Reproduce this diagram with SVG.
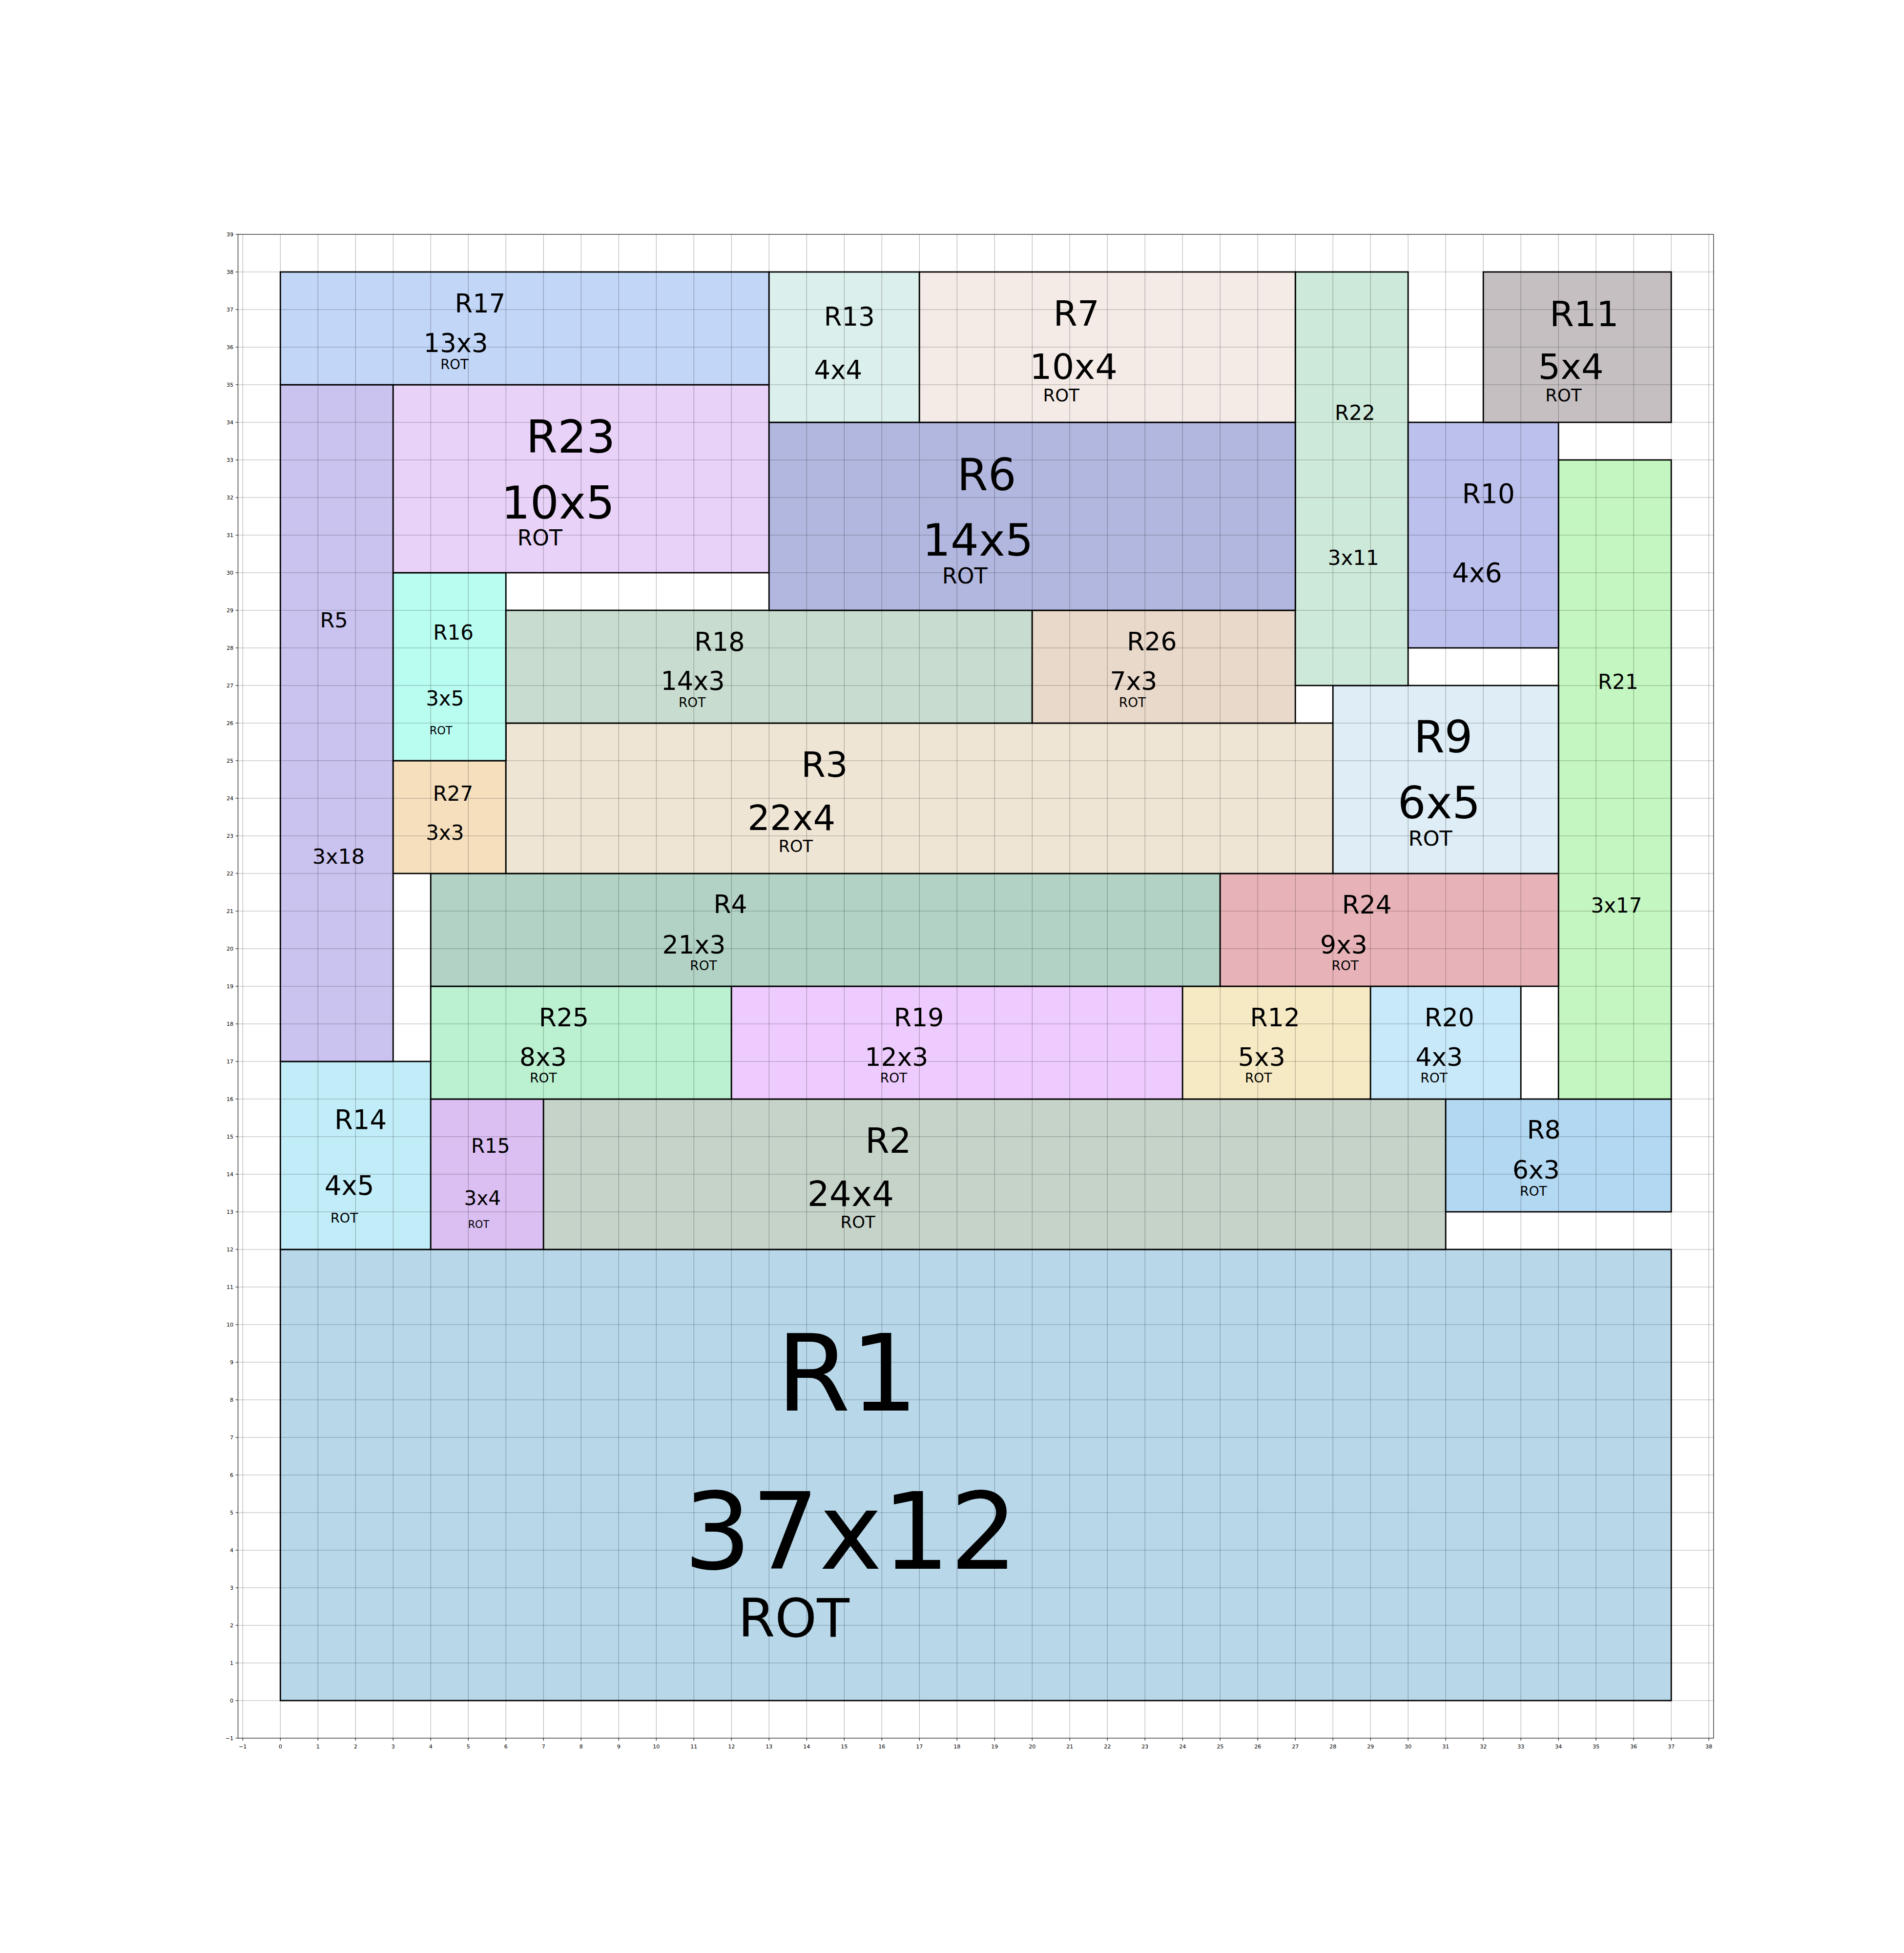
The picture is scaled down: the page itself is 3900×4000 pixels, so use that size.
<svg xmlns="http://www.w3.org/2000/svg" width="3900" height="4000" viewBox="0 0 3900 4000">
<style>
.r{stroke:#000;stroke-width:2.8}
.t{font-family:'DejaVu Sans','Liberation Sans',sans-serif;text-anchor:middle;fill:#000}
.xl{font-family:'DejaVu Sans','Liberation Sans',sans-serif;font-size:11.1px;text-anchor:middle;fill:#000}
.yl{font-family:'DejaVu Sans','Liberation Sans',sans-serif;font-size:11.1px;text-anchor:end;fill:#000}
</style>
<rect x="0" y="0" width="3900" height="4000" fill="#fff"/>
<g id="nodes">
<g id="R1"><rect class="r" x="574.25" y="2559" width="2849" height="924" fill="#b8d8ea"/>
<text class="t" x="1735.7" y="2889.2" font-size="218">R1</text><text class="t" x="1742.5" y="3213" font-size="218">37x12</text><text class="t" x="1625.7" y="3351.7" font-size="109">ROT</text></g>
<g id="R14"><rect class="r" x="574.25" y="2174" width="308" height="385" fill="#c1edf9"/>
<text class="t" x="738.5" y="2311.8" font-size="54.5">R14</text><text class="t" x="715.6" y="2446.9" font-size="54.5">4x5</text><text class="t" x="705.2" y="2503.7" font-size="27">ROT</text></g>
<g id="R15"><rect class="r" x="882.25" y="2251" width="231" height="308" fill="#dbbff3"/>
<text class="t" x="1004.8" y="2360.8" font-size="40.5">R15</text><text class="t" x="988.2" y="2467.8" font-size="40.5">3x4</text><text class="t" x="980.4" y="2514.7" font-size="20.7">ROT</text></g>
<g id="R2"><rect class="r" x="1113.25" y="2251" width="1848" height="308" fill="#c6d3c9"/>
<text class="t" x="1819.4" y="2360.8" font-size="71">R2</text><text class="t" x="1742.4" y="2469.8" font-size="71">24x4</text><text class="t" x="1757.2" y="2514.7" font-size="34">ROT</text></g>
<g id="R8"><rect class="r" x="2961.25" y="2251" width="462" height="231" fill="#b3d8f2"/>
<text class="t" x="3162.3" y="2331.8" font-size="52">R8</text><text class="t" x="3146.5" y="2413.9" font-size="52">6x3</text><text class="t" x="3141" y="2448.6" font-size="26.5">ROT</text></g>
<g id="R25"><rect class="r" x="882.25" y="2020" width="616" height="231" fill="#bbf1d1"/>
<text class="t" x="1155" y="2101.6" font-size="52">R25</text><text class="t" x="1112.5" y="2182.9" font-size="52">8x3</text><text class="t" x="1112.9" y="2217.1" font-size="26.5">ROT</text></g>
<g id="R19"><rect class="r" x="1498.25" y="2020" width="924" height="231" fill="#eecbfe"/>
<text class="t" x="1882.2" y="2101.6" font-size="52">R19</text><text class="t" x="1836.4" y="2182.9" font-size="52">12x3</text><text class="t" x="1830.5" y="2217.1" font-size="26.5">ROT</text></g>
<g id="R12"><rect class="r" x="2422.25" y="2020" width="385" height="231" fill="#f6eac4"/>
<text class="t" x="2611.7" y="2101.6" font-size="52">R12</text><text class="t" x="2584.3" y="2182.9" font-size="52">5x3</text><text class="t" x="2577.7" y="2217.1" font-size="26.5">ROT</text></g>
<g id="R20"><rect class="r" x="2807.25" y="2020" width="308" height="231" fill="#c8e9f9"/>
<text class="t" x="2968.8" y="2101.6" font-size="52">R20</text><text class="t" x="2947.9" y="2182.9" font-size="52">4x3</text><text class="t" x="2937.3" y="2217.1" font-size="26.5">ROT</text></g>
<g id="R21"><rect class="r" x="3192.25" y="942" width="231" height="1309" fill="#c3f6c0"/>
<text class="t" x="3314.4" y="1410.7" font-size="42">R21</text><text class="t" x="3311" y="1868.9" font-size="42">3x17</text></g>
<g id="R5"><rect class="r" x="574.25" y="788" width="231" height="1386" fill="#cac3f0"/>
<text class="t" x="684.1" y="1284.7" font-size="43">R5</text><text class="t" x="693.4" y="1768.9" font-size="43">3x18</text></g>
<g id="R4"><rect class="r" x="882.25" y="1789" width="1617" height="231" fill="#b2d2c5"/>
<text class="t" x="1496.1" y="1870.4" font-size="52">R4</text><text class="t" x="1421.4" y="1952.6" font-size="52">21x3</text><text class="t" x="1441" y="1987.2" font-size="26.5">ROT</text></g>
<g id="R24"><rect class="r" x="2499.25" y="1789" width="693" height="231" fill="#e8b3b8"/>
<text class="t" x="2799.8" y="1870.9" font-size="52">R24</text><text class="t" x="2752.5" y="1952.6" font-size="52">9x3</text><text class="t" x="2755.3" y="1987.2" font-size="26.5">ROT</text></g>
<g id="R27"><rect class="r" x="805.25" y="1558" width="231" height="231" fill="#f5dfbd"/>
<text class="t" x="928" y="1640.3" font-size="42">R27</text><text class="t" x="911.3" y="1719.9" font-size="42">3x3</text></g>
<g id="R3"><rect class="r" x="1036.25" y="1481" width="1694" height="308" fill="#efe5d5"/>
<text class="t" x="1688.8" y="1591.4" font-size="72">R3</text><text class="t" x="1621.2" y="1700.4" font-size="72">22x4</text><text class="t" x="1629.8" y="1745.4" font-size="33.5">ROT</text></g>
<g id="R9"><rect class="r" x="2730.25" y="1404" width="462" height="385" fill="#deedf6"/>
<text class="t" x="2956.2" y="1541.3" font-size="91">R9</text><text class="t" x="2947.6" y="1676" font-size="91">6x5</text><text class="t" x="2929.8" y="1732.1" font-size="43">ROT</text></g>
<g id="R16"><rect class="r" x="805.25" y="1173" width="231" height="385" fill="#b9fcf0"/>
<text class="t" x="928.6" y="1310.2" font-size="42">R16</text><text class="t" x="911.3" y="1444.9" font-size="42">3x5</text><text class="t" x="903.1" y="1503.6" font-size="22.4">ROT</text></g>
<g id="R18"><rect class="r" x="1036.25" y="1250" width="1078" height="231" fill="#c8ddd0"/>
<text class="t" x="1473.9" y="1333.2" font-size="52.5">R18</text><text class="t" x="1419.1" y="1413.3" font-size="52.5">14x3</text><text class="t" x="1417.7" y="1448" font-size="26.5">ROT</text></g>
<g id="R26"><rect class="r" x="2114.25" y="1250" width="539" height="231" fill="#e9d9ca"/>
<text class="t" x="2359.4" y="1332.1" font-size="52">R26</text><text class="t" x="2322" y="1413.3" font-size="52">7x3</text><text class="t" x="2319.5" y="1448" font-size="26.5">ROT</text></g>
<g id="R22"><rect class="r" x="2653.25" y="557" width="231" height="847" fill="#cde9d9"/>
<text class="t" x="2775.4" y="860.1" font-size="42">R22</text><text class="t" x="2772.3" y="1156.6" font-size="42">3x11</text></g>
<g id="R10"><rect class="r" x="2884.25" y="865" width="308" height="462" fill="#bcc0ec"/>
<text class="t" x="3048.9" y="1029.8" font-size="55">R10</text><text class="t" x="3025.4" y="1192.4" font-size="55">4x6</text></g>
<g id="R23"><rect class="r" x="805.25" y="788" width="770" height="385" fill="#e9d2f8"/>
<text class="t" x="1169" y="926.7" font-size="93">R23</text><text class="t" x="1142.9" y="1061.7" font-size="93">10x5</text><text class="t" x="1105.8" y="1117" font-size="44">ROT</text></g>
<g id="R6"><rect class="r" x="1575.25" y="865" width="1078" height="385" fill="#b2b7df"/>
<text class="t" x="2021" y="1003.7" font-size="91">R6</text><text class="t" x="2003" y="1138.2" font-size="91">14x5</text><text class="t" x="1976.2" y="1195.2" font-size="44.5">ROT</text></g>
<g id="R17"><rect class="r" x="574.25" y="557" width="1001" height="231" fill="#c2d6f8"/>
<text class="t" x="983.4" y="639.5" font-size="52.8">R17</text><text class="t" x="933.6" y="720.8" font-size="52.8">13x3</text><text class="t" x="931" y="755.5" font-size="27.5">ROT</text></g>
<g id="R13"><rect class="r" x="1575.25" y="557" width="308" height="308" fill="#dbefec"/>
<text class="t" x="1739.8" y="666.6" font-size="52.8">R13</text><text class="t" x="1716.8" y="776.1" font-size="52.8">4x4</text></g>
<g id="R7"><rect class="r" x="1883.25" y="557" width="770" height="308" fill="#f4ebe6"/>
<text class="t" x="2204.7" y="666.6" font-size="71">R7</text><text class="t" x="2199" y="776.1" font-size="72">10x4</text><text class="t" x="2173.7" y="822.2" font-size="35.5">ROT</text></g>
<g id="R11"><rect class="r" x="3038.25" y="557" width="385" height="308" fill="#c5bfc1"/>
<text class="t" x="3244.9" y="667.7" font-size="72">R11</text><text class="t" x="3217.7" y="776.1" font-size="72">5x4</text><text class="t" x="3202.5" y="822.2" font-size="35.5">ROT</text></g>
</g>
<g id="grid" fill="none" stroke="#000" stroke-opacity="0.31" stroke-width="1.1">
<path d="M497.25 480V3560M574.25 480V3560M651.25 480V3560M728.25 480V3560M805.25 480V3560M882.25 480V3560M959.25 480V3560M1036.25 480V3560M1113.25 480V3560M1190.25 480V3560M1267.25 480V3560M1344.25 480V3560M1421.25 480V3560M1498.25 480V3560M1575.25 480V3560M1652.25 480V3560M1729.25 480V3560M1806.25 480V3560M1883.25 480V3560M1960.25 480V3560M2037.25 480V3560M2114.25 480V3560M2191.25 480V3560M2268.25 480V3560M2345.25 480V3560M2422.25 480V3560M2499.25 480V3560M2576.25 480V3560M2653.25 480V3560M2730.25 480V3560M2807.25 480V3560M2884.25 480V3560M2961.25 480V3560M3038.25 480V3560M3115.25 480V3560M3192.25 480V3560M3269.25 480V3560M3346.25 480V3560M3423.25 480V3560M3500.25 480V3560"/>
<path d="M487.5 3483H3510M487.5 3406H3510M487.5 3329H3510M487.5 3252H3510M487.5 3175H3510M487.5 3098H3510M487.5 3021H3510M487.5 2944H3510M487.5 2867H3510M487.5 2790H3510M487.5 2713H3510M487.5 2636H3510M487.5 2559H3510M487.5 2482H3510M487.5 2405H3510M487.5 2328H3510M487.5 2251H3510M487.5 2174H3510M487.5 2097H3510M487.5 2020H3510M487.5 1943H3510M487.5 1866H3510M487.5 1789H3510M487.5 1712H3510M487.5 1635H3510M487.5 1558H3510M487.5 1481H3510M487.5 1404H3510M487.5 1327H3510M487.5 1250H3510M487.5 1173H3510M487.5 1096H3510M487.5 1019H3510M487.5 942H3510M487.5 865H3510M487.5 788H3510M487.5 711H3510M487.5 634H3510M487.5 557H3510"/>
</g>
<g id="axes" fill="none" stroke="#000" stroke-width="1.11">
<rect x="487.5" y="480" width="3022.5" height="3080"/>
<path d="M497.25 3560v4.9M574.25 3560v4.9M651.25 3560v4.9M728.25 3560v4.9M805.25 3560v4.9M882.25 3560v4.9M959.25 3560v4.9M1036.25 3560v4.9M1113.25 3560v4.9M1190.25 3560v4.9M1267.25 3560v4.9M1344.25 3560v4.9M1421.25 3560v4.9M1498.25 3560v4.9M1575.25 3560v4.9M1652.25 3560v4.9M1729.25 3560v4.9M1806.25 3560v4.9M1883.25 3560v4.9M1960.25 3560v4.9M2037.25 3560v4.9M2114.25 3560v4.9M2191.25 3560v4.9M2268.25 3560v4.9M2345.25 3560v4.9M2422.25 3560v4.9M2499.25 3560v4.9M2576.25 3560v4.9M2653.25 3560v4.9M2730.25 3560v4.9M2807.25 3560v4.9M2884.25 3560v4.9M2961.25 3560v4.9M3038.25 3560v4.9M3115.25 3560v4.9M3192.25 3560v4.9M3269.25 3560v4.9M3346.25 3560v4.9M3423.25 3560v4.9M3500.25 3560v4.9"/>
<path d="M487.5 3560h-4.9M487.5 3483h-4.9M487.5 3406h-4.9M487.5 3329h-4.9M487.5 3252h-4.9M487.5 3175h-4.9M487.5 3098h-4.9M487.5 3021h-4.9M487.5 2944h-4.9M487.5 2867h-4.9M487.5 2790h-4.9M487.5 2713h-4.9M487.5 2636h-4.9M487.5 2559h-4.9M487.5 2482h-4.9M487.5 2405h-4.9M487.5 2328h-4.9M487.5 2251h-4.9M487.5 2174h-4.9M487.5 2097h-4.9M487.5 2020h-4.9M487.5 1943h-4.9M487.5 1866h-4.9M487.5 1789h-4.9M487.5 1712h-4.9M487.5 1635h-4.9M487.5 1558h-4.9M487.5 1481h-4.9M487.5 1404h-4.9M487.5 1327h-4.9M487.5 1250h-4.9M487.5 1173h-4.9M487.5 1096h-4.9M487.5 1019h-4.9M487.5 942h-4.9M487.5 865h-4.9M487.5 788h-4.9M487.5 711h-4.9M487.5 634h-4.9M487.5 557h-4.9M487.5 480h-4.9"/>
</g>
<g id="xticklabels">
<text class="xl" x="497.25" y="3581">−1</text><text class="xl" x="574.25" y="3581">0</text><text class="xl" x="651.25" y="3581">1</text><text class="xl" x="728.25" y="3581">2</text><text class="xl" x="805.25" y="3581">3</text><text class="xl" x="882.25" y="3581">4</text><text class="xl" x="959.25" y="3581">5</text><text class="xl" x="1036.25" y="3581">6</text><text class="xl" x="1113.25" y="3581">7</text><text class="xl" x="1190.25" y="3581">8</text><text class="xl" x="1267.25" y="3581">9</text><text class="xl" x="1344.25" y="3581">10</text><text class="xl" x="1421.25" y="3581">11</text><text class="xl" x="1498.25" y="3581">12</text><text class="xl" x="1575.25" y="3581">13</text><text class="xl" x="1652.25" y="3581">14</text><text class="xl" x="1729.25" y="3581">15</text><text class="xl" x="1806.25" y="3581">16</text><text class="xl" x="1883.25" y="3581">17</text><text class="xl" x="1960.25" y="3581">18</text><text class="xl" x="2037.25" y="3581">19</text><text class="xl" x="2114.25" y="3581">20</text><text class="xl" x="2191.25" y="3581">21</text><text class="xl" x="2268.25" y="3581">22</text><text class="xl" x="2345.25" y="3581">23</text><text class="xl" x="2422.25" y="3581">24</text><text class="xl" x="2499.25" y="3581">25</text><text class="xl" x="2576.25" y="3581">26</text><text class="xl" x="2653.25" y="3581">27</text><text class="xl" x="2730.25" y="3581">28</text><text class="xl" x="2807.25" y="3581">29</text><text class="xl" x="2884.25" y="3581">30</text><text class="xl" x="2961.25" y="3581">31</text><text class="xl" x="3038.25" y="3581">32</text><text class="xl" x="3115.25" y="3581">33</text><text class="xl" x="3192.25" y="3581">34</text><text class="xl" x="3269.25" y="3581">35</text><text class="xl" x="3346.25" y="3581">36</text><text class="xl" x="3423.25" y="3581">37</text><text class="xl" x="3500.25" y="3581">38</text>
</g>
<g id="yticklabels">
<text class="yl" x="478" y="3564">−1</text><text class="yl" x="478" y="3487">0</text><text class="yl" x="478" y="3410">1</text><text class="yl" x="478" y="3333">2</text><text class="yl" x="478" y="3256">3</text><text class="yl" x="478" y="3179">4</text><text class="yl" x="478" y="3102">5</text><text class="yl" x="478" y="3025">6</text><text class="yl" x="478" y="2948">7</text><text class="yl" x="478" y="2871">8</text><text class="yl" x="478" y="2794">9</text><text class="yl" x="478" y="2717">10</text><text class="yl" x="478" y="2640">11</text><text class="yl" x="478" y="2563">12</text><text class="yl" x="478" y="2486">13</text><text class="yl" x="478" y="2409">14</text><text class="yl" x="478" y="2332">15</text><text class="yl" x="478" y="2255">16</text><text class="yl" x="478" y="2178">17</text><text class="yl" x="478" y="2101">18</text><text class="yl" x="478" y="2024">19</text><text class="yl" x="478" y="1947">20</text><text class="yl" x="478" y="1870">21</text><text class="yl" x="478" y="1793">22</text><text class="yl" x="478" y="1716">23</text><text class="yl" x="478" y="1639">24</text><text class="yl" x="478" y="1562">25</text><text class="yl" x="478" y="1485">26</text><text class="yl" x="478" y="1408">27</text><text class="yl" x="478" y="1331">28</text><text class="yl" x="478" y="1254">29</text><text class="yl" x="478" y="1177">30</text><text class="yl" x="478" y="1100">31</text><text class="yl" x="478" y="1023">32</text><text class="yl" x="478" y="946">33</text><text class="yl" x="478" y="869">34</text><text class="yl" x="478" y="792">35</text><text class="yl" x="478" y="715">36</text><text class="yl" x="478" y="638">37</text><text class="yl" x="478" y="561">38</text><text class="yl" x="478" y="484">39</text>
</g>
</svg>
